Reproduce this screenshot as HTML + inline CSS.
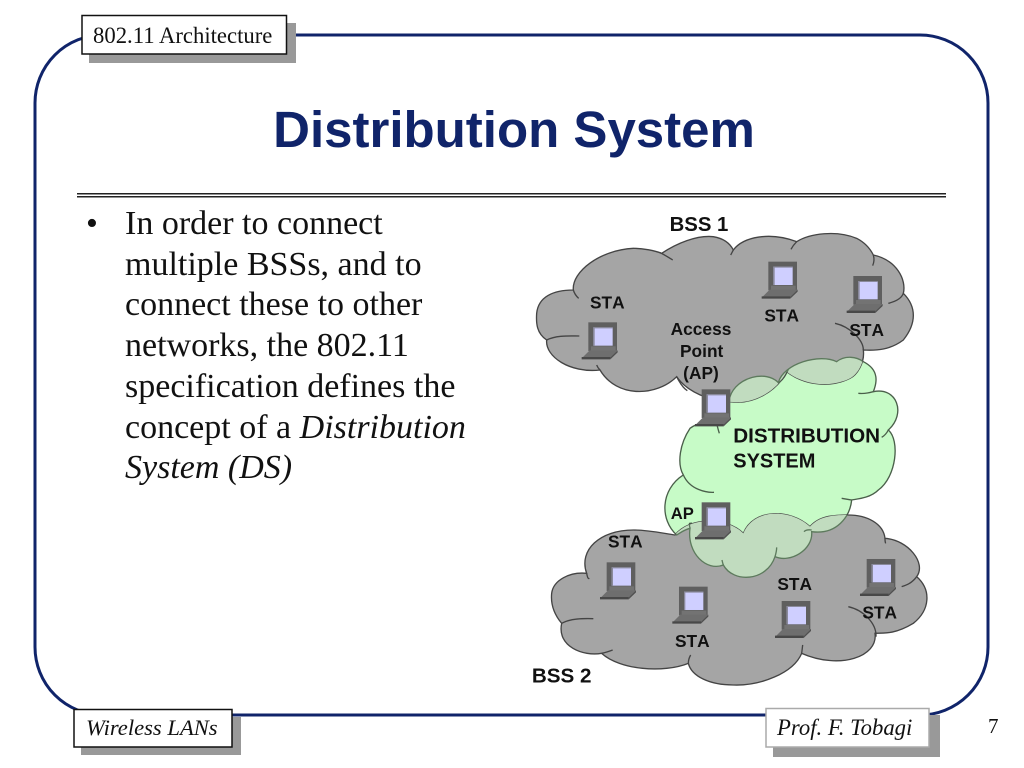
<!DOCTYPE html>
<html>
<head>
<meta charset="utf-8">
<title>Distribution System</title>
<style>
html,body{margin:0;padding:0;background:#fff;}
svg{display:block;}
.s{font-family:"Liberation Serif",serif;}
.d{font-family:"Liberation Sans",sans-serif;font-weight:bold;fill:#111;text-anchor:middle;font-kerning:none;}
</style>
</head>
<body>
<svg width="1024" height="768" viewBox="0 0 1024 768" xmlns="http://www.w3.org/2000/svg">
<defs>
<clipPath id="cg">
<path d="M50,340C55,290 100,270 160,270C155,215 240,150 340,145C370,145 405,152 425,160C470,130 530,105 580,110C610,115 630,130 640,150C670,110 750,95 830,125C870,100 950,90 1010,115C1035,128 1050,145 1060,165C1130,180 1160,240 1150,280C1190,320 1190,370 1150,420C1110,450 1070,452 1030,450C1035,490 1010,525 990,535C930,565 850,555 800,515C770,575 700,612 640,606C570,605 500,575 470,530C410,590 290,595 240,510C150,520 75,470 80,420C50,400 48,370 50,340Z"/>
<path d="M95,1180C100,1140 150,1115 200,1120C175,1050 240,990 340,990C385,990 430,1000 465,1005C510,950 620,950 670,1000C700,925 810,925 870,980C900,945 950,945 985,945C1040,945 1090,970 1095,1015C1165,1020 1220,1090 1190,1130C1235,1170 1230,1230 1180,1270C1130,1300 1100,1300 1065,1300C1075,1370 960,1410 845,1360C820,1420 720,1458 640,1455C570,1455 515,1430 505,1390C430,1420 300,1410 245,1360C190,1370 110,1340 125,1270C100,1240 92,1210 95,1180Z"/>
</clipPath>
<g id="lap">
<rect x="20" y="0" width="86" height="86" fill="#5f5f5f"/>
<rect x="35" y="15" width="58" height="55" fill="#cfcfff"/>
<path d="M35,15h58v3h-54v52h-4z" fill="#8a8a9c"/>
<rect x="28" y="72" width="74" height="14" fill="#737373"/>
<path d="M24,84h84l-22,24h-86z" fill="#6e6e6e"/>
<path d="M0,104h86v7h-86z" fill="#484848"/>
<path d="M86,106l22,-22v6l-22,21z" fill="#505050"/>
</g>
<path id="gr" d="M630,590C650,530 740,510 775,548C790,490 900,460 950,485C975,465 1010,470 1030,485C1080,510 1070,550 1060,575C1130,560 1160,640 1105,690C1140,720 1130,830 1075,870C1050,895 1010,897 995,900C990,950 950,1005 875,995C880,1050 810,1090 765,1070C740,1145 640,1150 610,1095C560,1115 500,1060 510,985C490,990 480,1000 470,1005C420,960 420,870 490,825C470,790 480,730 510,685C530,670 570,660 595,670Z"/>
<g id="gl" fill="none">
<path d="M1015,580C1035,582 1050,578 1060,575"/>
<path d="M1105,690C1100,700 1092,708 1085,712"/>
<path d="M965,895C975,897 985,898 995,900"/>
<path d="M490,825C510,870 560,878 582,877"/>
<path d="M590,670C592,680 595,690 598,700"/>
<path d="M775,548C790,540 797,525 805,508"/>
<path d="M510,985C505,960 512,975 515,968"/>
<path d="M610,1095C608,1090 607,1085 606,1080"/>
<path d="M765,1070C768,1060 770,1050 770,1042"/>
<path d="M875,990C862,988 855,992 852,995"/>
</g>
</defs>

<rect width="1024" height="768" fill="#fff"/>

<!-- frame -->
<rect x="35" y="35" width="953" height="680" rx="68" ry="68" fill="#fff" stroke="#10246a" stroke-width="3"/>

<!-- title -->
<text x="514" y="147" font-family="Liberation Sans, sans-serif" font-weight="bold" font-size="51" fill="#10246a" text-anchor="middle">Distribution System</text>

<!-- double rule -->
<rect x="77" y="193" width="869" height="1.5" fill="#222"/>
<rect x="77" y="196" width="869" height="1.5" fill="#222"/>

<!-- header box -->
<rect x="89" y="23" width="207" height="40" fill="#999"/>
<rect x="82" y="15.500" width="204.500" height="38.500" fill="#fff" stroke="#111" stroke-width="1.500"/>
<text class="s" x="93" y="43" font-size="22.700" fill="#111">802.11 Architecture</text>

<!-- body -->
<g class="s" font-size="34" fill="#111">
<text x="86" y="234">•</text>
<text x="125" y="234">In order to connect</text>
<text x="125" y="275">multiple BSSs, and to</text>
<text x="125" y="315">connect these to other</text>
<text x="125" y="356">networks, the 802.11</text>
<text x="125" y="397">specification defines the</text>
<text x="125" y="438">concept of a <tspan font-style="italic">Distribution</tspan></text>
<text x="125" y="478" font-style="italic">System (DS)</text>
</g>

<!-- diagram -->
<g transform="translate(520,200) scale(0.33333)">
<use href="#gr" fill="#c7fbc7" stroke="#4a5f4a" stroke-width="4"/>
<use href="#gl" stroke="#4a5f4a" stroke-width="4"/>

<g fill="#a5a5a5" stroke="#444" stroke-width="4">
<path d="M50,340C55,290 100,270 160,270C155,215 240,150 340,145C370,145 405,152 425,160C470,130 530,105 580,110C610,115 630,130 640,150C670,110 750,95 830,125C870,100 950,90 1010,115C1035,128 1050,145 1060,165C1130,180 1160,240 1150,280C1190,320 1190,370 1150,420C1110,450 1070,452 1030,450C1035,490 1010,525 990,535C930,565 850,555 800,515C770,575 700,612 640,606C570,605 500,575 470,530C410,590 290,595 240,510C150,520 75,470 80,420C50,400 48,370 50,340Z"/>
<path d="M95,1180C100,1140 150,1115 200,1120C175,1050 240,990 340,990C385,990 430,1000 465,1005C510,950 620,950 670,1000C700,925 810,925 870,980C900,945 950,945 985,945C1040,945 1090,970 1095,1015C1165,1020 1220,1090 1190,1130C1235,1170 1230,1230 1180,1270C1130,1300 1100,1300 1065,1300C1075,1370 960,1410 845,1360C820,1420 720,1458 640,1455C570,1455 515,1430 505,1390C430,1420 300,1410 245,1360C190,1370 110,1340 125,1270C100,1240 92,1210 95,1180Z"/>
</g>
<g fill="none" stroke="#444" stroke-width="4">
<path d="M420,158C435,165 450,175 458,180"/>
<path d="M640,150C637,155 635,160 632,165"/>
<path d="M830,125C822,133 817,140 813,148"/>
<path d="M1060,165C1063,175 1063,185 1058,197"/>
<path d="M1150,280C1145,295 1125,305 1105,310"/>
<path d="M945,370C990,380 1030,420 1030,450"/>
<path d="M80,420C110,405 150,408 178,408"/>
<path d="M160,270C163,280 168,288 176,295"/>
<path d="M240,510C235,505 232,500 230,495"/>
<path d="M470,530C480,550 490,565 502,572"/>
<path d="M1190,1130C1175,1150 1160,1155 1145,1160"/>
<path d="M985,1220C1030,1230 1070,1270 1068,1310"/>
<path d="M125,1270C150,1255 190,1255 220,1256"/>
<path d="M200,1120C202,1130 204,1138 208,1135"/>
<path d="M245,1360C255,1358 265,1355 278,1350"/>
<path d="M505,1390C505,1380 508,1372 512,1365"/>
<path d="M845,1360C846,1352 847,1345 848,1335"/>
<path d="M1095,1015C1095,1020 1095,1025 1097,1030"/>
</g>

<g clip-path="url(#cg)">
<use href="#gr" fill="#c1dcbf" stroke="#5d7a5d" stroke-width="4"/>
<use href="#gl" stroke="#5d7a5d" stroke-width="4"/>
</g>

<use href="#lap" x="725" y="185"/>
<use href="#lap" x="980" y="228"/>
<use href="#lap" x="185" y="367"/>
<use href="#lap" x="525" y="568"/>
<use href="#lap" x="525" y="907"/>
<use href="#lap" x="240" y="1087"/>
<use href="#lap" x="457" y="1160"/>
<use href="#lap" x="765" y="1203"/>
<use href="#lap" x="1020" y="1077"/>

<text class="d" x="537" y="93" font-size="61">BSS 1</text>
<text class="d" x="262" y="325" font-size="52">STA</text>
<text class="d" x="785" y="365" font-size="52">STA</text>
<text class="d" x="1040" y="408" font-size="52">STA</text>
<text class="d" x="543" y="405" font-size="52">Access</text>
<text class="d" x="545" y="471" font-size="52">Point</text>
<text class="d" x="543" y="537" font-size="52">(AP)</text>
<text class="d" x="860" y="727" font-size="62">DISTRIBUTION</text>
<text class="d" x="763" y="802" font-size="60">SYSTEM</text>
<text class="d" x="487" y="957" font-size="50">AP</text>
<text class="d" x="316" y="1043" font-size="52">STA</text>
<text class="d" x="517" y="1341" font-size="52">STA</text>
<text class="d" x="824" y="1170" font-size="52">STA</text>
<text class="d" x="1079" y="1255" font-size="52">STA</text>
<text class="d" x="125" y="1447" font-size="62">BSS 2</text>
</g>

<!-- footer left -->
<rect x="81" y="717" width="160" height="38" fill="#999"/>
<rect x="74" y="709.500" width="158" height="37.500" fill="#fff" stroke="#111" stroke-width="1.500"/>
<text class="s" x="86" y="735" font-size="22.600" font-style="italic" fill="#111">Wireless LANs</text>

<!-- footer right -->
<rect x="773" y="715" width="167" height="42" fill="#999"/>
<rect x="766" y="708.500" width="163" height="38.500" fill="#fff" stroke="#aaa" stroke-width="1.500"/>
<text class="s" x="777" y="735" font-size="22.700" font-style="italic" fill="#111">Prof. F. Tobagi</text>

<!-- page number -->
<text class="s" x="988" y="733" font-size="21" fill="#111">7</text>
</svg>
</body>
</html>
